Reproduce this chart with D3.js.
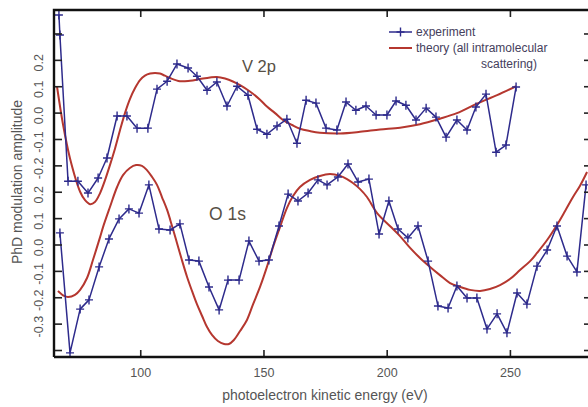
<!DOCTYPE html>
<html><head><meta charset="utf-8">
<script src="https://cdn.jsdelivr.net/npm/d3@7"></script>
<style>
html,body{margin:0;padding:0;background:#fff;}
svg{display:block;font-family:"Liberation Sans",Arial,sans-serif;}
</style></head>
<body>
<svg id="chart" width="588" height="407"></svg>
<script>
// ---------- data ----------
const v2pOffset = 0.5; // V 2p curves are stacked 0.5 above O 1s

const v2pExpEnergy = [67.0, 67.4, 70.7, 74.7, 78.8, 82.9, 86.5, 90.6, 94.6, 98.7, 103.1, 106.8, 110.9, 114.9, 119.4, 123.0, 127.1, 131.1, 135.2, 139.3, 143.7, 147.4, 151.4, 155.5, 159.5, 163.6, 167.3, 171.3, 175.4, 179.8, 183.5, 187.5, 191.6, 195.7, 200.1, 203.8, 207.8, 211.9, 216.0, 220.0, 224.1, 228.5, 232.6, 236.2, 240.3, 244.4, 248.4, 252.5];
const v2pExpAmp = [0.370, 0.294, -0.260, -0.260, -0.305, -0.248, -0.172, -0.013, -0.013, -0.059, -0.059, 0.089, 0.119, 0.184, 0.169, 0.138, 0.085, 0.116, 0.025, 0.100, 0.066, -0.063, -0.082, -0.051, -0.025, -0.116, 0.047, 0.036, -0.059, -0.066, 0.040, 0.009, 0.025, -0.009, -0.009, 0.044, 0.028, -0.028, 0.017, -0.017, -0.093, -0.028, -0.066, 0.021, 0.070, -0.150, -0.123, 0.097];

const v2pTheoryEnergy = [66.2, 68.7, 71.5, 75.6, 77.6, 79.6, 81.6, 83.7, 85.7, 87.7, 89.8, 91.8, 93.8, 95.8, 97.9, 99.9, 101.9, 104.0, 106.0, 108.0, 110.0, 112.1, 116.1, 120.2, 124.2, 128.3, 131.1, 134.4, 137.6, 140.5, 144.5, 148.6, 151.4, 154.7, 157.9, 161.6, 164.8, 168.9, 172.9, 181.1, 189.2, 197.3, 205.4, 213.5, 221.6, 228.5, 236.6, 244.8, 252.5];
const v2pTheoryAmp = [0.100, -0.047, -0.174, -0.300, -0.332, -0.347, -0.339, -0.305, -0.256, -0.199, -0.135, -0.066, -0.002, 0.051, 0.093, 0.123, 0.140, 0.148, 0.150, 0.148, 0.140, 0.131, 0.119, 0.121, 0.127, 0.133, 0.135, 0.129, 0.118, 0.104, 0.080, 0.049, 0.023, -0.002, -0.028, -0.047, -0.061, -0.070, -0.076, -0.079, -0.073, -0.064, -0.057, -0.044, -0.023, -0.002, 0.034, 0.066, 0.100];

const o1sExpEnergy = [67.4, 71.5, 75.6, 79.2, 83.3, 87.3, 91.4, 95.4, 99.5, 103.5, 107.6, 112.1, 116.1, 119.8, 123.8, 127.9, 132.0, 135.6, 140.1, 144.1, 148.2, 152.2, 156.3, 160.0, 164.0, 168.1, 172.1, 175.8, 180.2, 184.3, 188.4, 192.8, 196.9, 200.9, 204.6, 208.6, 212.7, 216.8, 220.8, 224.9, 228.5, 232.6, 236.6, 240.7, 244.8, 248.8, 252.9, 256.9, 261.0, 265.1, 269.1, 273.2, 277.2, 280.9];
const o1sExpAmp = [0.044, -0.411, -0.245, -0.210, -0.085, 0.021, 0.097, 0.135, 0.119, 0.226, 0.059, 0.055, 0.078, -0.059, -0.063, -0.161, -0.248, -0.135, -0.135, 0.013, -0.063, -0.059, 0.070, 0.191, 0.165, 0.195, 0.245, 0.226, 0.256, 0.305, 0.237, 0.248, 0.040, 0.165, 0.059, 0.025, 0.070, -0.063, -0.233, -0.241, -0.157, -0.203, -0.203, -0.320, -0.263, -0.335, -0.184, -0.226, -0.082, -0.021, 0.070, -0.044, -0.104, 0.226];

const o1sTheoryEnergy = [66.6, 69.1, 70.7, 73.5, 75.6, 78.4, 80.8, 83.7, 84.9, 87.7, 90.6, 93.0, 95.8, 98.3, 100.7, 102.7, 104.8, 106.8, 108.8, 110.9, 112.9, 114.9, 116.9, 119.0, 121.0, 123.0, 125.1, 127.1, 129.1, 131.5, 134.0, 136.0, 138.0, 140.5, 143.3, 145.8, 148.6, 151.4, 153.9, 156.7, 159.5, 162.0, 164.8, 168.9, 172.9, 177.0, 181.1, 183.9, 186.3, 189.2, 192.0, 196.1, 201.3, 205.4, 209.5, 213.5, 217.6, 221.6, 225.7, 229.8, 233.8, 237.9, 241.9, 246.0, 250.0, 254.1, 258.2, 261.0, 265.1, 269.1, 272.4, 275.6, 278.4, 281.3];
const o1sTheoryAmp = [-0.176, -0.195, -0.199, -0.191, -0.172, -0.127, -0.059, 0.028, 0.066, 0.142, 0.218, 0.263, 0.290, 0.301, 0.298, 0.282, 0.256, 0.226, 0.180, 0.131, 0.070, 0.006, -0.059, -0.123, -0.176, -0.226, -0.271, -0.313, -0.343, -0.366, -0.377, -0.377, -0.362, -0.328, -0.286, -0.226, -0.161, -0.085, -0.009, 0.066, 0.138, 0.184, 0.218, 0.245, 0.260, 0.267, 0.260, 0.248, 0.233, 0.210, 0.180, 0.119, 0.070, 0.032, -0.013, -0.051, -0.085, -0.116, -0.146, -0.161, -0.172, -0.176, -0.169, -0.154, -0.131, -0.097, -0.063, -0.032, 0.017, 0.074, 0.127, 0.180, 0.222, 0.275];

const xTicks = [100, 150, 200, 250];
const yTicks = [-0.4, -0.3, -0.2, -0.1, 0.0, 0.1, 0.2, 0.3, 0.4, 0.5, 0.6, 0.7, 0.8];
const o1sTickLabels = ["0.2", "0.1", "0.0", "-0.1", "-0.2", "-0.3"];
const o1sTickValues = [0.2, 0.1, 0.0, -0.1, -0.2, -0.3];
const v2pTickLabels = ["0.2", "0.1", "0.0", "-0.1", "-0.2"];
const v2pTickValues = [0.2, 0.1, 0.0, -0.1, -0.2];

// ---------- layout ----------
const L = 54, R = 590, T = 10, B = 357;
const svg = d3.select("#chart");
svg.append("rect").attr("width", 588).attr("height", 407).attr("fill", "#fff");

const x = d3.scaleLinear().domain([65, 282.5]).range([L, R]);
const y = d3.scaleLinear().domain([-0.4265, 0.889]).range([B, T]);

const blue = "#2e2b8c", red = "#b5372f", ink = "#222";

svg.append("defs").append("clipPath").attr("id", "clip")
  .append("rect").attr("x", L).attr("y", T).attr("width", R - L).attr("height", B - T);

const zip = (ex, ey, off) => ex.map((e, i) => [e, ey[i] + off]);
const v2pExp = zip(v2pExpEnergy, v2pExpAmp, v2pOffset);
const v2pTh = zip(v2pTheoryEnergy, v2pTheoryAmp, v2pOffset);
const o1sExp = zip(o1sExpEnergy, o1sExpAmp, 0);
const o1sTh = zip(o1sTheoryEnergy, o1sTheoryAmp, 0);

const plot = svg.append("g").attr("clip-path", "url(#clip)");
const smooth = d3.line().x(d => x(d[0])).y(d => y(d[1])).curve(d3.curveCatmullRom.alpha(0.5));
const straight = d3.line().x(d => x(d[0])).y(d => y(d[1]));

[v2pTh, o1sTh].forEach(s => plot.append("path").attr("d", smooth(s))
  .attr("fill", "none").attr("stroke", red).attr("stroke-width", 2));

const plus = (g, px, py, col) => {
  g.append("path").attr("d", `M${px-4},${py}H${px+4}M${px},${py-4.5}V${py+4.5}`)
    .attr("stroke", col).attr("stroke-width", 1.4).attr("fill", "none");
};
[v2pExp, o1sExp].forEach(s => {
  plot.append("path").attr("d", straight(s)).attr("fill", "none")
    .attr("stroke", blue).attr("stroke-width", 1.5).attr("stroke-linejoin", "round");
  s.forEach(d => plus(plot, x(d[0]), y(d[1]), blue));
});

// ---------- axes ----------
const styleAxis = g => {
  g.select(".domain").remove();
  g.selectAll(".tick line").attr("stroke", ink).attr("stroke-width", 1.6);
};
svg.append("g").attr("transform", `translate(0,${B})`)
  .call(d3.axisBottom(x).tickValues(xTicks).tickSizeInner(-7).tickSizeOuter(0).tickPadding(11))
  .call(styleAxis)
  .call(g => g.selectAll(".tick text").attr("font-size", 12.5).attr("fill", "#555")
    .attr("font-family", "Liberation Sans, Arial, sans-serif"));
svg.append("g").attr("transform", `translate(0,${T})`)
  .call(d3.axisTop(x).tickValues(xTicks).tickSizeInner(-7).tickSizeOuter(0).tickFormat(""))
  .call(styleAxis);
svg.append("g").attr("transform", `translate(${L},0)`)
  .call(d3.axisLeft(y).tickValues(yTicks).tickSizeInner(-8).tickSizeOuter(0).tickFormat(""))
  .call(styleAxis);
svg.append("g").attr("transform", `translate(${R},0)`)
  .call(d3.axisRight(y).tickValues(yTicks).tickSizeInner(-6).tickSizeOuter(0).tickFormat(""))
  .call(styleAxis);

// frame
svg.append("path").attr("d", `M${L},${B}V${T}H${R}V${B}H${L}`)
  .attr("fill", "none").attr("stroke", "#111").attr("stroke-width", 2.4);

// rotated y tick labels
const yLab = (vals, labels, off) => vals.forEach((v, i) => {
  svg.append("text")
    .attr("transform", `translate(38.5,${y(v + off) + 3}) rotate(-90)`)
    .attr("text-anchor", "middle").attr("dy", "0.35em")
    .attr("font-size", 12.5).attr("fill", "#555").text(labels[i]);
});
yLab(v2pTickValues, v2pTickLabels, v2pOffset);
yLab(o1sTickValues, o1sTickLabels, 0);

// axis titles
svg.append("text").attr("x", 325).attr("y", 400).attr("text-anchor", "middle")
  .attr("font-size", 14).attr("fill", "#555").text("photoelectron kinetic energy (eV)");
svg.append("text").attr("transform", "translate(17,182) rotate(-90)")
  .attr("text-anchor", "middle").attr("dy", "0.35em")
  .attr("font-size", 14).attr("fill", "#555").text("PhD modulation amplitude");

// panel labels
svg.append("text").attr("x", 242).attr("y", 72).attr("font-size", 16.5).attr("fill", "#574f45").text("V 2p");
svg.append("text").attr("x", 209).attr("y", 220).attr("font-size", 17.5).attr("fill", "#574f45").text("O 1s");

// legend
const lg = svg.append("g");
lg.append("line").attr("x1", 389).attr("x2", 412).attr("y1", 32).attr("y2", 32)
  .attr("stroke", blue).attr("stroke-width", 1.5);
plus(lg, 400.5, 32, blue);
lg.append("text").attr("x", 416).attr("y", 36).attr("font-size", 12).attr("fill", "#45405c").text("experiment");
lg.append("line").attr("x1", 389).attr("x2", 412).attr("y1", 48).attr("y2", 48)
  .attr("stroke", red).attr("stroke-width", 2);
lg.append("text").attr("x", 416).attr("y", 52).attr("font-size", 12).attr("fill", "#45405c").text("theory (all intramolecular");
lg.append("text").attr("x", 537).attr("y", 68).attr("text-anchor", "end").attr("font-size", 12).attr("fill", "#45405c").text("scattering)");
</script>
</body></html>
